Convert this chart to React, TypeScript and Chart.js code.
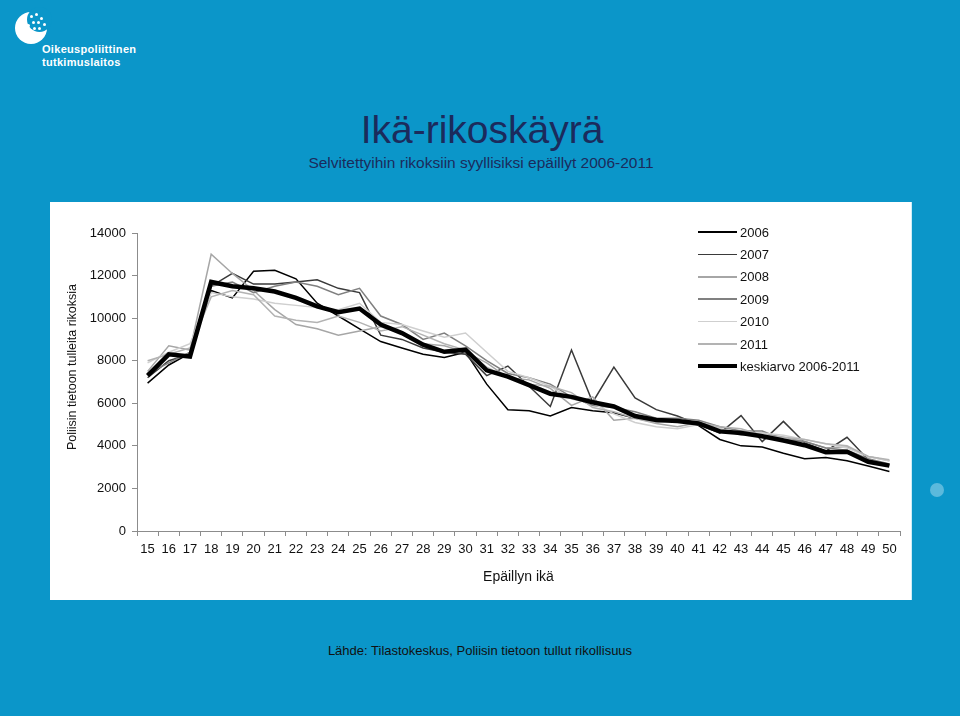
import React, { useEffect, useRef } from "react";
import { Chart, registerables } from "chart.js";

Chart.register(...registerables);

const ages = [15,16,17,18,19,20,21,22,23,24,25,26,27,28,29,30,31,32,33,34,35,36,37,38,39,40,41,42,43,44,45,46,47,48,49,50];
const yTicks = [0, 2000, 4000, 6000, 8000, 10000, 12000, 14000];

const y2006 = [6950,7800,8350,11300,10950,12200,12250,11850,10700,10100,9500,8900,8600,8300,8150,8400,6900,5700,5650,5400,5800,5650,5550,5300,5250,5200,4950,4300,4000,3950,3650,3400,3450,3300,3050,2800];
const y2007 = [7200,8000,8300,11500,12100,11600,11600,11700,11800,11400,11200,9200,9000,8600,8400,8300,7300,7750,6800,5850,8500,6050,7700,6250,5700,5400,5000,4600,5420,4200,5150,4150,3750,4400,3350,3100];
const y2008 = [7500,8700,8500,13000,12100,11300,10400,9700,9500,9200,9400,9600,9300,8800,8700,8400,7900,7200,7100,6700,5900,6300,5200,5300,5050,4900,5100,4800,4500,4600,4400,4200,3900,3950,3500,3300];
const y2009 = [7400,7900,8400,11500,11700,11200,11500,11700,11500,11100,11400,10100,9700,9000,9300,8700,8000,7400,7200,6900,6300,5900,5800,5600,5300,5300,5200,4900,4700,4700,4300,4200,3900,3800,3400,3150];
const y2010 = [7900,8400,8800,11200,11000,10900,10700,10600,10500,10400,10700,9800,9700,9400,9100,9300,8400,7500,7200,6800,6200,6000,5500,5100,4900,4800,5000,4800,4600,4600,4500,4300,4100,3900,3500,3300];
const y2011 = [8000,8300,8600,11000,11300,11100,10100,9900,9800,10100,9800,9400,9600,9200,8800,8500,7700,7200,6900,6800,6500,5800,5600,5300,5100,5200,5100,4900,4800,4500,4400,4300,4100,4000,3500,3350];
const yAvg = [7300,8300,8200,11700,11500,11400,11250,10950,10550,10280,10450,9700,9300,8750,8420,8520,7550,7250,6850,6450,6300,6050,5850,5400,5220,5170,5050,4680,4600,4450,4250,4030,3700,3720,3250,3070];

const seriesNames = ["2006", "2007", "2008", "2009", "2010", "2011", "keskiarvo 2006-2011"];
const seriesData = [y2006, y2007, y2008, y2009, y2010, y2011, yAvg];
const seriesColors = ["#000000", "#3a3a3a", "#a6a6a6", "#808080", "#cfcfcf", "#b3b3b3", "#000000"];
const seriesWidths = [1.5, 1.5, 1.5, 1.5, 1.5, 1.5, 4.5];

const FONT = "'Liberation Sans', Arial, Helvetica, sans-serif";

export default function App() {
  const canvasRef = useRef<HTMLCanvasElement | null>(null);

  useEffect(() => {
    const canvas = canvasRef.current;
    if (!canvas) return;
    const datasets = seriesNames.map((name, i) => ({
      label: name,
      data: seriesData[i],
      borderColor: seriesColors[i],
      backgroundColor: seriesColors[i],
      borderWidth: seriesWidths[i],
      pointRadius: 0,
      tension: 0,
      fill: false,
      order: seriesNames.length - i,
    }));
    const chart = new Chart(canvas, {
      type: "line",
      data: { labels: ages.map(String), datasets },
      options: {
        animation: false,
        responsive: false,
        maintainAspectRatio: false,
        layout: { padding: { top: 31, right: 11, left: 0, bottom: 0 } },
        plugins: { legend: { display: false }, tooltip: { enabled: false }, title: { display: false } },
        scales: {
          x: {
            type: "category",
            offset: true,
            grid: { display: true, drawOnChartArea: false, drawTicks: true, tickLength: 5, offset: true, color: "#8c8c8c" },
            border: { display: true, color: "#8c8c8c", width: 1 },
            ticks: { color: "#111", font: { family: FONT, size: 13 }, padding: 6, maxRotation: 0, autoSkip: false },
            title: { display: true, text: "Epäillyn ikä", color: "#111", font: { family: FONT, size: 14 }, padding: { top: 0, bottom: 14 } },
            afterFit: (s: any) => { s.height = 69; },
          },
          y: {
            min: 0,
            max: 14000,
            afterBuildTicks: (s: any) => { s.ticks = yTicks.map((v) => ({ value: v })); },
            grid: { display: true, drawOnChartArea: false, drawTicks: true, tickLength: 5, color: "#8c8c8c" },
            border: { display: true, color: "#8c8c8c", width: 1 },
            ticks: { color: "#111", font: { family: FONT, size: 13 }, padding: 6, callback: (v: any) => String(v) },
            afterFit: (s: any) => { s.width = 87; },
          },
        },
      },
    });
    return () => chart.destroy();
  }, []);

  const legendTop = 232;
  const legendStep = 22.4;

  return (
    <div style={{ position: "fixed", left: 0, top: 0, width: 960, height: 716, background: "#0b96c9", overflow: "hidden", fontFamily: FONT }}>
      {/* logo */}
      <div style={{ position: "absolute", left: 15, top: 12, width: 32, height: 32, borderRadius: "50%", background: "#ffffff" }} />
      <div style={{ position: "absolute", left: 27, top: 7, width: 25, height: 25, borderRadius: "50%", background: "#0b96c9" }} />
      {[[30,15],[35,13],[40,17],[43,23],[37,21],[32,21],[38,27],[33,27],[27,24]].map(([x, y], i) => (
        <div key={i} style={{ position: "absolute", left: x, top: y, width: 3, height: 3, borderRadius: "50%", background: "#ffffff" }} />
      ))}
      <div style={{ position: "absolute", left: 42, top: 43, color: "#fff", fontSize: 11, fontWeight: 700, lineHeight: "13px", letterSpacing: 0.3 }}>
        Oikeuspoliittinen<br />tutkimuslaitos
      </div>

      {/* titles */}
      <div style={{ position: "absolute", left: 0, width: 964, top: 107, textAlign: "center", fontSize: 39, color: "#1b2b5c", lineHeight: "46px" }}>
        Ikä-rikoskäyrä
      </div>
      <div style={{ position: "absolute", left: 0, width: 962, top: 154, textAlign: "center", fontSize: 15.5, color: "#1b2b5c", lineHeight: "18px" }}>
        Selvitettyihin rikoksiin syyllisiksi epäillyt 2006-2011
      </div>

      {/* panel */}
      <div style={{ position: "absolute", left: 50, top: 202, width: 861, height: 398, background: "#ffffff", boxShadow: "1px 0 0 #cdeef8" }}>
        <canvas ref={canvasRef} width={861} height={398} style={{ display: "block", width: 861, height: 398 }} />
      </div>

      {/* y-axis title */}
      <div style={{ position: "absolute", left: 72 - 100, top: 367 - 9, width: 200, height: 18, lineHeight: "18px", textAlign: "center", fontSize: 12.5, color: "#111", transform: "rotate(-90deg)", whiteSpace: "nowrap" }}>
        Poliisin tietoon tulleita rikoksia
      </div>

      {/* legend */}
      {seriesNames.map((name, i) => (
        <div key={name} style={{ position: "absolute", left: 698, top: legendTop + i * legendStep - 9, height: 18, display: "flex", alignItems: "center" }}>
          <div style={{ width: 39, height: seriesWidths[i] > 2 ? 4 : 1.5, background: seriesColors[i] }} />
          <span style={{ marginLeft: 3, fontSize: 13, color: "#111" }}>{name}</span>
        </div>
      ))}

      {/* decoration */}
      <div style={{ position: "absolute", left: 930, top: 483, width: 14, height: 14, borderRadius: "50%", background: "#5bb9dc" }} />

      {/* footer */}
      <div style={{ position: "absolute", left: 0, width: 960, top: 643, textAlign: "center", fontSize: 13, color: "#111", lineHeight: "16px" }}>
        Lähde: Tilastokeskus, Poliisin tietoon tullut rikollisuus
      </div>
    </div>
  );
}
